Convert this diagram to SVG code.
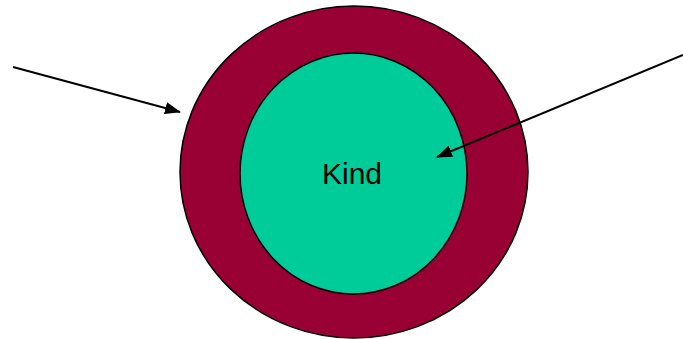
<svg xmlns="http://www.w3.org/2000/svg" width="683" height="339" viewBox="0 0 683 339">
<style>
.ring{stroke:#000;stroke-width:1.5}
.conn{stroke:#000;stroke-width:2;fill:none}
.lbl{font-family:"Liberation Sans",Arial,sans-serif;font-size:30px;fill:#000}
</style>
<defs>
<marker id="ah" markerWidth="16" markerHeight="12" refX="15" refY="6" orient="auto" markerUnits="userSpaceOnUse">
<path d="M0,0 L16,6 L0,12 Z" fill="#000"/>
</marker>
</defs>
<rect width="683" height="339" fill="#fff"/>
<g id="outer">
<ellipse class="ring" cx="354" cy="172" rx="174" ry="166" fill="#990033"/>
</g>
<g id="kind">
<ellipse class="ring" cx="353.5" cy="173.5" rx="113.5" ry="120.5" fill="#00CC99"/>
<text class="lbl" x="352" y="184" text-anchor="middle">Kind</text>
</g>
<g id="connectors">
<line class="conn" x1="13" y1="67" x2="180" y2="112" marker-end="url(#ah)"/>
<line class="conn" x1="683" y1="55" x2="437" y2="157" marker-end="url(#ah)"/>
</g>
</svg>
